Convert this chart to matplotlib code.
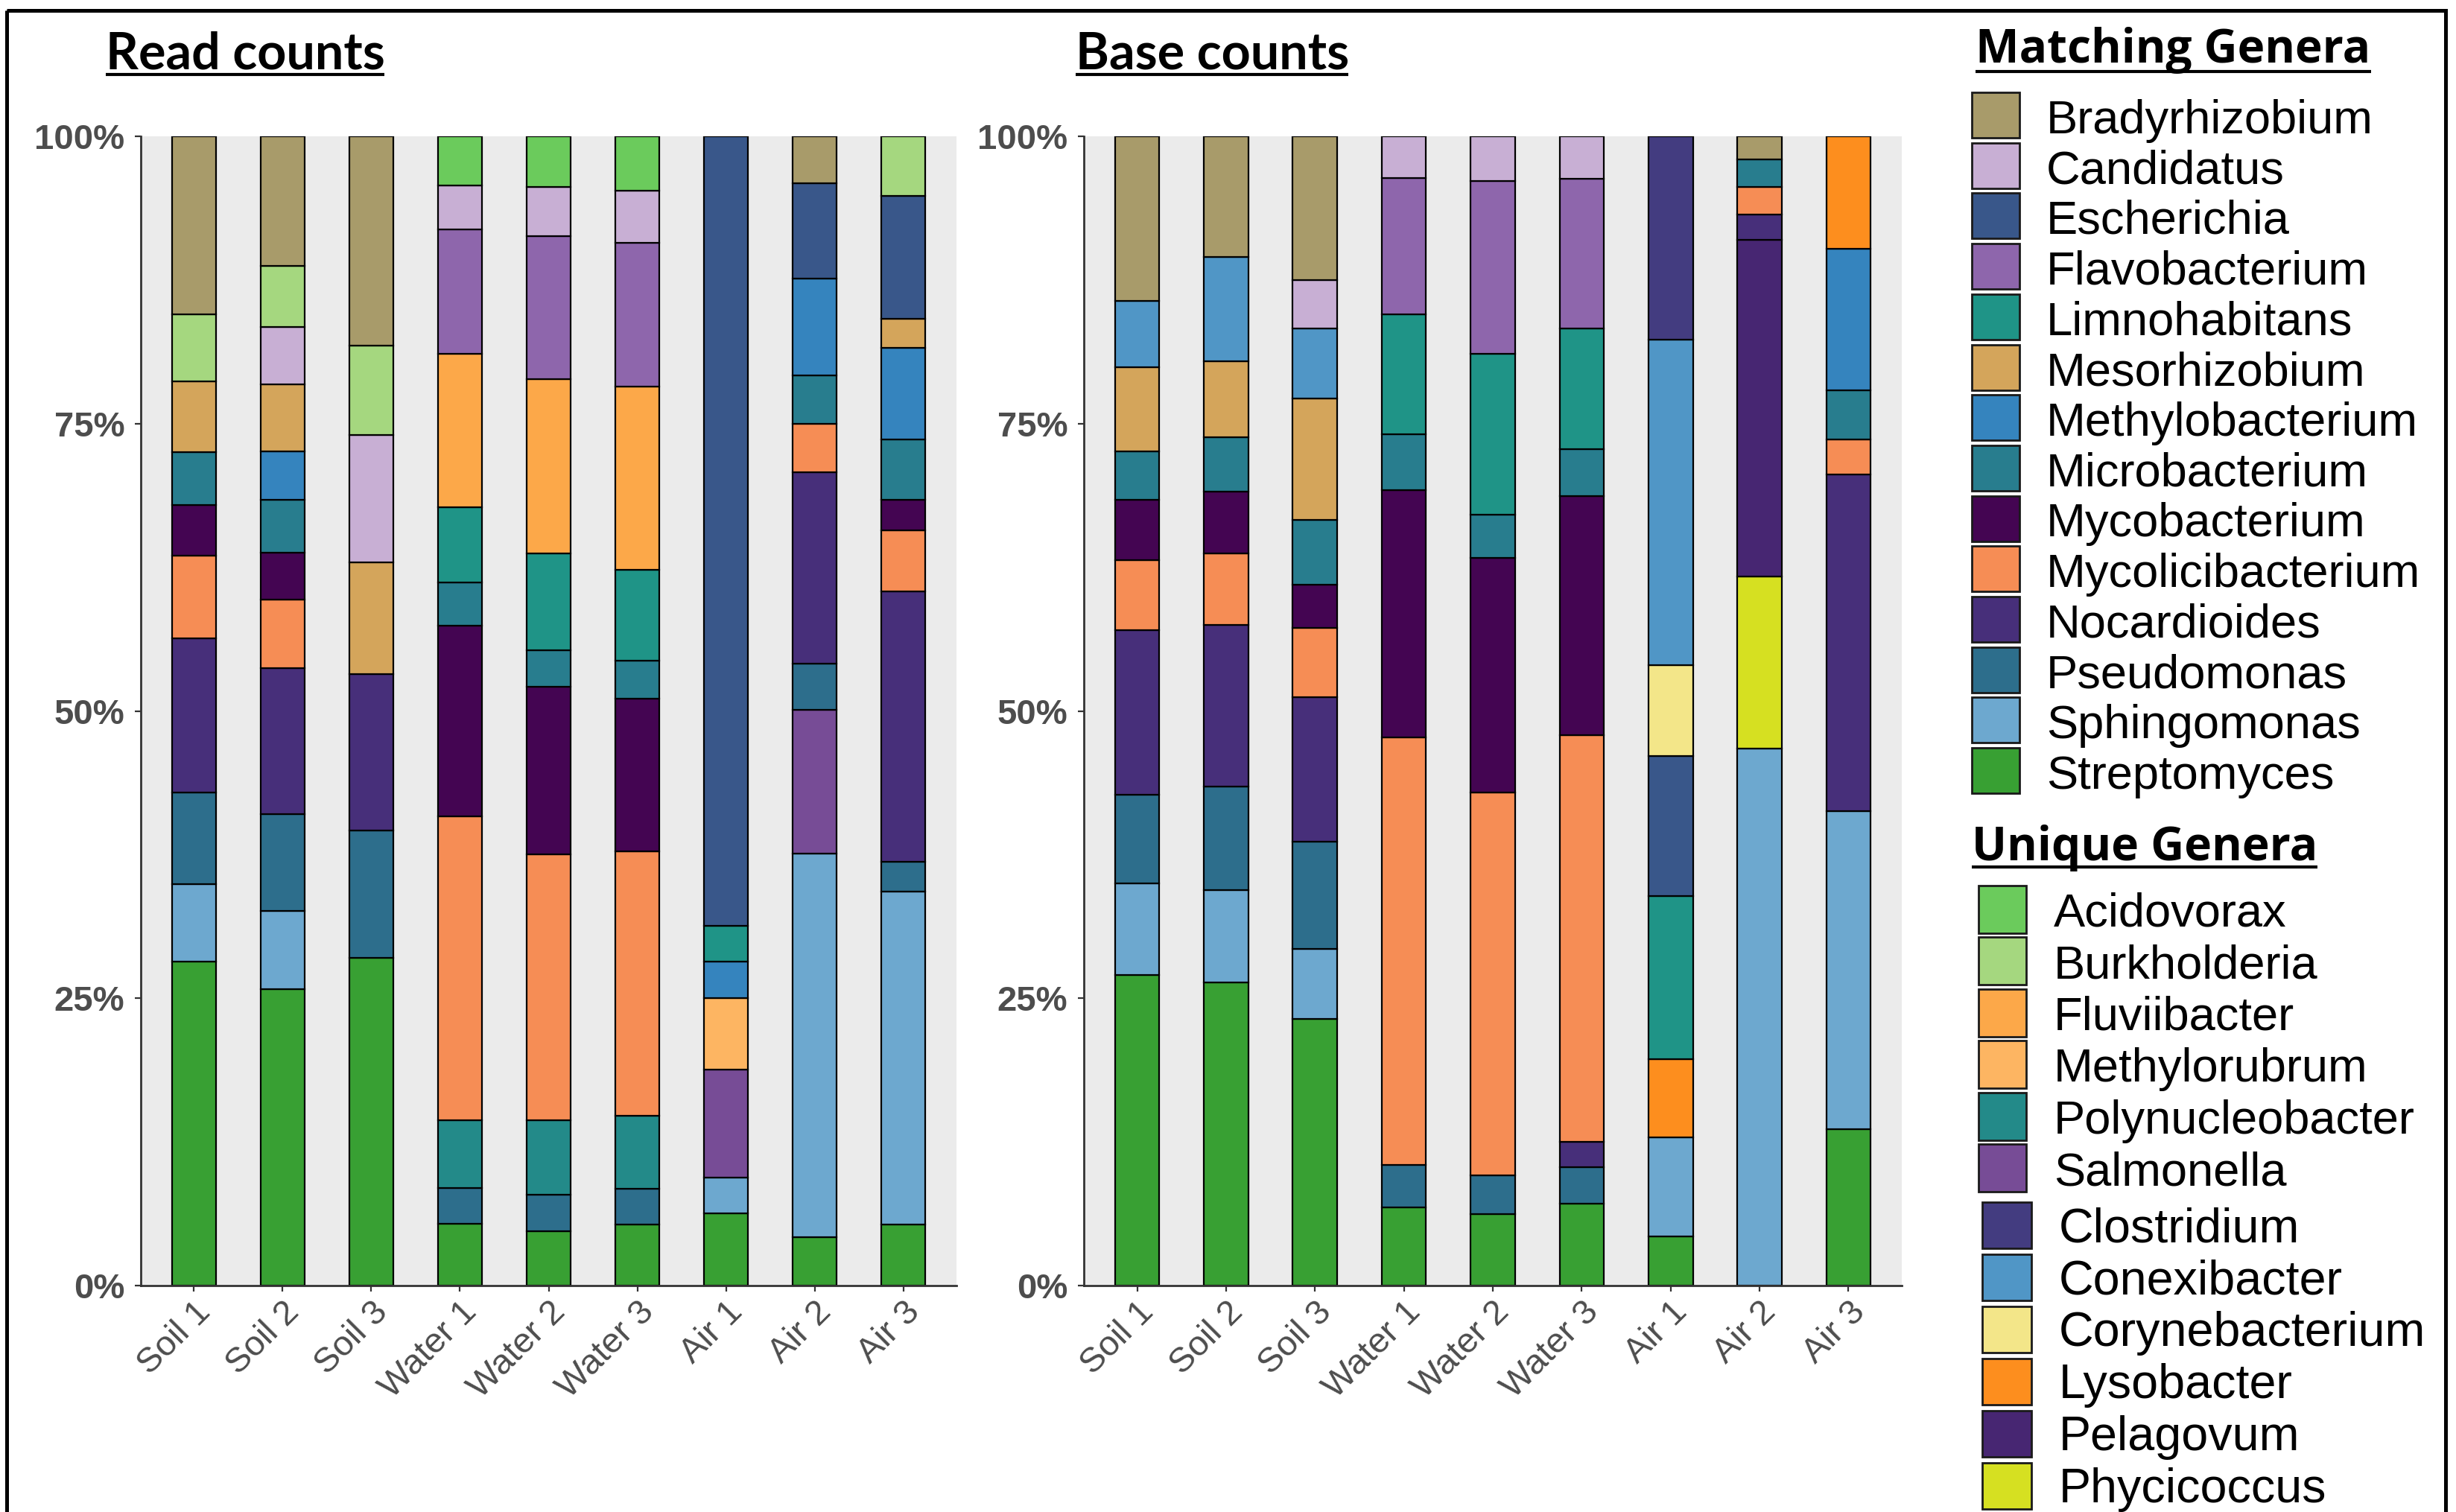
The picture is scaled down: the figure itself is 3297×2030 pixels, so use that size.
import matplotlib
matplotlib.use("Agg")
import matplotlib.pyplot as plt
from matplotlib.patches import Rectangle

W, H = 3298, 2030
DPI = 100

samples = ["Soil 1", "Soil 2", "Soil 3", "Water 1", "Water 2", "Water 3",
           "Air 1", "Air 2", "Air 3"]
y_ticks = [0, 25, 50, 75, 100]
y_tick_labels = ["0%", "25%", "50%", "75%", "100%"]

# ---- Read counts: relative abundance (%) per sample ----
read_soil_1 = {"Bradyrhizobium": 15.5, "Burkholderia": 5.8, "Mesorhizobium": 6.2,
               "Microbacterium": 4.6, "Mycobacterium": 4.4, "Mycolicibacterium": 7.2,
               "Nocardioides": 13.4, "Pseudomonas": 8.0, "Sphingomonas": 6.7,
               "Streptomyces": 28.2}
read_soil_2 = {"Bradyrhizobium": 11.3, "Burkholderia": 5.3, "Candidatus": 5.0,
               "Mesorhizobium": 5.8, "Methylobacterium": 4.2, "Microbacterium": 4.6,
               "Mycobacterium": 4.1, "Mycolicibacterium": 6.0, "Nocardioides": 12.7,
               "Pseudomonas": 8.4, "Sphingomonas": 6.8, "Streptomyces": 25.8}
read_soil_3 = {"Bradyrhizobium": 18.2, "Burkholderia": 7.8, "Candidatus": 11.1,
               "Mesorhizobium": 9.7, "Nocardioides": 13.6, "Pseudomonas": 11.1,
               "Streptomyces": 28.5}
read_water_1 = {"Acidovorax": 4.3, "Candidatus": 3.8, "Flavobacterium": 10.8,
                "Fluviibacter": 13.4, "Limnohabitans": 6.5, "Microbacterium": 3.8,
                "Mycobacterium": 16.6, "Mycolicibacterium": 26.4,
                "Polynucleobacter": 5.9, "Pseudomonas": 3.1, "Streptomyces": 5.4}
read_water_2 = {"Acidovorax": 4.4, "Candidatus": 4.3, "Flavobacterium": 12.4,
                "Fluviibacter": 15.2, "Limnohabitans": 8.4, "Microbacterium": 3.2,
                "Mycobacterium": 14.6, "Mycolicibacterium": 23.1,
                "Polynucleobacter": 6.5, "Pseudomonas": 3.2, "Streptomyces": 4.7}
read_water_3 = {"Acidovorax": 4.7, "Candidatus": 4.6, "Flavobacterium": 12.5,
                "Fluviibacter": 15.9, "Limnohabitans": 7.9, "Microbacterium": 3.3,
                "Mycobacterium": 13.3, "Mycolicibacterium": 23.0,
                "Polynucleobacter": 6.4, "Pseudomonas": 3.1, "Streptomyces": 5.3}
read_air_1 = {"Escherichia": 68.7, "Limnohabitans": 3.1, "Methylobacterium": 3.2,
              "Methylorubrum": 6.2, "Salmonella": 9.4, "Sphingomonas": 3.1,
              "Streptomyces": 6.3}
read_air_2 = {"Bradyrhizobium": 4.1, "Escherichia": 8.3, "Methylobacterium": 8.4,
              "Microbacterium": 4.2, "Mycolicibacterium": 4.2, "Nocardioides": 16.7,
              "Pseudomonas": 4.0, "Salmonella": 12.5, "Sphingomonas": 33.4,
              "Streptomyces": 4.2}
read_air_3 = {"Burkholderia": 5.2, "Escherichia": 10.7, "Mesorhizobium": 2.5,
              "Methylobacterium": 8.0, "Microbacterium": 5.2, "Mycobacterium": 2.7,
              "Mycolicibacterium": 5.3, "Nocardioides": 23.5, "Pseudomonas": 2.6,
              "Sphingomonas": 29.0, "Streptomyces": 5.3}

# ---- Base counts: relative abundance (%) per sample ----
base_soil_1 = {"Bradyrhizobium": 14.3, "Conexibacter": 5.8, "Mesorhizobium": 7.3,
               "Microbacterium": 4.2, "Mycobacterium": 5.3, "Mycolicibacterium": 6.1,
               "Nocardioides": 14.3, "Pseudomonas": 7.7, "Sphingomonas": 8.0,
               "Streptomyces": 27.0}
base_soil_2 = {"Bradyrhizobium": 10.5, "Conexibacter": 9.1, "Mesorhizobium": 6.6,
               "Microbacterium": 4.7, "Mycobacterium": 5.4, "Mycolicibacterium": 6.2,
               "Nocardioides": 14.1, "Pseudomonas": 9.0, "Sphingomonas": 8.0,
               "Streptomyces": 26.4}
base_soil_3 = {"Bradyrhizobium": 12.5, "Candidatus": 4.2, "Conexibacter": 6.1,
               "Mesorhizobium": 10.6, "Microbacterium": 5.6, "Mycobacterium": 3.8,
               "Mycolicibacterium": 6.0, "Nocardioides": 12.6, "Pseudomonas": 9.3,
               "Sphingomonas": 6.1, "Streptomyces": 23.2}
base_water_1 = {"Candidatus": 3.6, "Flavobacterium": 11.9, "Limnohabitans": 10.4,
                "Microbacterium": 4.9, "Mycobacterium": 21.5,
                "Mycolicibacterium": 37.2, "Pseudomonas": 3.7, "Streptomyces": 6.8}
base_water_2 = {"Candidatus": 3.9, "Flavobacterium": 15.0, "Limnohabitans": 14.0,
                "Microbacterium": 3.8, "Mycobacterium": 20.4,
                "Mycolicibacterium": 33.3, "Pseudomonas": 3.4, "Streptomyces": 6.2}
base_water_3 = {"Candidatus": 3.7, "Flavobacterium": 13.0, "Limnohabitans": 10.5,
                "Microbacterium": 4.1, "Mycobacterium": 20.8,
                "Mycolicibacterium": 35.4, "Nocardioides": 2.2, "Pseudomonas": 3.2,
                "Streptomyces": 7.1}
base_air_1 = {"Clostridium": 17.7, "Conexibacter": 28.3, "Corynebacterium": 7.9,
              "Escherichia": 12.2, "Limnohabitans": 14.2, "Lysobacter": 6.8,
              "Sphingomonas": 8.6, "Streptomyces": 4.3}
base_air_2 = {"Bradyrhizobium": 2.0, "Microbacterium": 2.4, "Mycolicibacterium": 2.4,
              "Nocardioides": 2.2, "Pelagovum": 29.3, "Phycicoccus": 15.0,
              "Sphingomonas": 46.7}
base_air_3 = {"Lysobacter": 9.8, "Methylobacterium": 12.3, "Microbacterium": 4.3,
              "Mycolicibacterium": 3.0, "Nocardioides": 29.3, "Sphingomonas": 27.7,
              "Streptomyces": 13.6}

read_counts = [read_soil_1, read_soil_2, read_soil_3, read_water_1, read_water_2,
               read_water_3, read_air_1, read_air_2, read_air_3]
base_counts = [base_soil_1, base_soil_2, base_soil_3, base_water_1, base_water_2,
               base_water_3, base_air_1, base_air_2, base_air_3]

matching_genera = ["Bradyrhizobium", "Candidatus", "Escherichia", "Flavobacterium",
                   "Limnohabitans", "Mesorhizobium", "Methylobacterium",
                   "Microbacterium", "Mycobacterium", "Mycolicibacterium",
                   "Nocardioides", "Pseudomonas", "Sphingomonas", "Streptomyces"]
unique_read_genera = ["Acidovorax", "Burkholderia", "Fluviibacter", "Methylorubrum",
                      "Polynucleobacter", "Salmonella"]
unique_base_genera = ["Clostridium", "Conexibacter", "Corynebacterium", "Lysobacter",
                      "Pelagovum", "Phycicoccus"]

genus_colors = {
    "Bradyrhizobium": "#A89B6A", "Candidatus": "#C8AFD4", "Escherichia": "#39578A",
    "Flavobacterium": "#8E66AC", "Limnohabitans": "#1F9487", "Mesorhizobium": "#D4A55B",
    "Methylobacterium": "#3584BE", "Microbacterium": "#287D8E",
    "Mycobacterium": "#440552", "Mycolicibacterium": "#F68D55",
    "Nocardioides": "#472F7A", "Pseudomonas": "#2D6E8C", "Sphingomonas": "#6DA8CF",
    "Streptomyces": "#38A033", "Acidovorax": "#6BCB5C", "Burkholderia": "#A5D77F",
    "Fluviibacter": "#FCA849", "Methylorubrum": "#FDB562",
    "Polynucleobacter": "#238A89", "Salmonella": "#774C96", "Clostridium": "#433C80",
    "Conexibacter": "#5096C6", "Corynebacterium": "#F3E689", "Lysobacter": "#FD8E1E",
    "Pelagovum": "#472672", "Phycicoccus": "#D6E021",
}

AXIS_GREY = "#333333"
LABEL_GREY = "#4D4D4D"
SANS = ["Liberation Sans", "DejaVu Sans"]

fig = plt.figure(figsize=(W / DPI, H / DPI), dpi=DPI)
fig.patch.set_facecolor("white")


def px_rect(x0, y0, x1, y1):
    """Figure-fraction rectangle from pixel box (origin top-left)."""
    return [x0 / W, 1 - y1 / H, (x1 - x0) / W, (y1 - y0) / H]


def stacked_panel(rect, data):
    ax = fig.add_axes(rect)
    ax.set_facecolor("#EBEBEB")
    for i, comp in enumerate(data):
        bottom = 0.0
        # alphabetical order from the top down, so stack in reverse
        for genus in sorted(comp, reverse=True):
            val = comp[genus]
            ax.bar(i + 1, val, width=0.5, bottom=bottom, color=genus_colors[genus],
                   edgecolor="black", linewidth=1.6, zorder=2)
            bottom += val
    ax.set_xlim(0.4, 9.6)
    ax.set_ylim(0, 100)
    for side in ("top", "right"):
        ax.spines[side].set_visible(False)
    for side in ("left", "bottom"):
        ax.spines[side].set_color(AXIS_GREY)
        ax.spines[side].set_linewidth(2.0)
    ax.set_yticks(y_ticks)
    ax.set_yticklabels(y_tick_labels, fontsize=34, fontweight="bold",
                       color=LABEL_GREY, family=SANS)
    ax.set_xticks(range(1, len(samples) + 1))
    ax.set_xticklabels(samples, rotation=45, ha="right", va="top",
                       rotation_mode="anchor", fontsize=34, color=LABEL_GREY,
                       family=SANS)
    ax.tick_params(axis="both", length=5.5, width=1.6, color=AXIS_GREY)
    ax.tick_params(axis="y", pad=10)
    ax.tick_params(axis="x", pad=4)
    return ax


stacked_panel(px_rect(189, 183, 1284, 1726), read_counts)
stacked_panel(px_rect(1455, 183, 2553, 1726), base_counts)

# Overlay in pixel coordinates for titles, legend and frame
ov = fig.add_axes([0, 0, 1, 1])
ov.set_xlim(0, W)
ov.set_ylim(H, 0)
ov.axis("off")
renderer = fig.canvas.get_renderer()


def fitted_title(x0, x1, y_base, y_line, text, family, size):
    t = ov.text(x0, y_base, text, fontsize=size, fontweight="bold", family=family,
                color="black", ha="left", va="baseline")
    bb = t.get_window_extent(renderer=renderer)
    t.set_fontsize(size * (x1 - x0) / bb.width)
    ov.plot([x0, x1], [y_line, y_line], color="black", lw=3.0,
            solid_capstyle="butt")


fitted_title(142, 516, 92, 100, "Read counts", ["Lato", "DejaVu Sans"], 49)
fitted_title(1444, 1810, 92, 100, "Base counts", ["Lato", "DejaVu Sans"], 49)
fitted_title(2652, 3183, 84, 96, "Matching Genera", ["Open Sans", "DejaVu Sans"], 42)
fitted_title(2647, 3111, 1155, 1164, "Unique Genera", ["Open Sans", "DejaVu Sans"], 44)


def legend_block(names, box_x0, box_x1, cy0, step, box_h, text_x, size, base_off):
    for k, name in enumerate(names):
        cy = cy0 + k * step
        ov.add_patch(Rectangle((box_x0, cy - box_h / 2), box_x1 - box_x0, box_h,
                               facecolor=genus_colors[name], edgecolor="#1A1A1A",
                               linewidth=2.0))
        ov.text(text_x, cy + base_off, name, fontsize=size, family=SANS,
                color="black", ha="left", va="baseline")


legend_block(matching_genera, 2647, 2711, 154.5, 67.7, 61, 2747, 45.5, 24)
legend_block(unique_read_genera, 2656, 2720, 1221, 69.4, 64, 2757, 45.5, 23)
legend_block(unique_base_genera, 2661, 2727, 1645, 70.0, 62, 2764, 46.5, 22)

# outer frame (open at the bottom edge of the canvas)
ov.add_patch(Rectangle((9.5, 14), 3273.5, 2200, fill=False, edgecolor="black",
                       linewidth=3.6, clip_on=False))

fig.savefig("out.png", dpi=DPI, facecolor="white")
